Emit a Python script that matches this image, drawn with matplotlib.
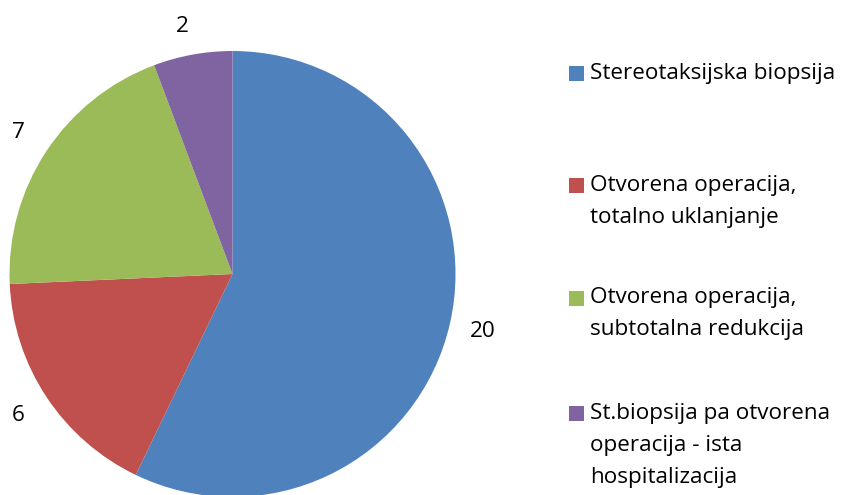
import matplotlib
matplotlib.use("Agg")
import matplotlib.pyplot as plt
from matplotlib.patches import Rectangle

categories = [
    "Stereotaksijska biopsija",
    "Otvorena operacija,\ntotalno uklanjanje",
    "Otvorena operacija,\nsubtotalna redukcija",
    "St.biopsija pa otvorena\noperacija - ista\nhospitalizacija",
]
values = [20, 6, 7, 2]
colors = ["#4F81BD", "#C0504D", "#9BBB59", "#8064A2"]

W, H = 843, 495
fig = plt.figure(figsize=(W / 100, H / 100), dpi=100)
ax = fig.add_axes([0, 0, 1, 1])

FONT = "Open Sans"
FS = 16.2

wedges, texts = ax.pie(
    values,
    colors=colors,
    startangle=90,
    counterclock=False,
    center=(232.5, H - 274),
    radius=223,
    labels=[str(v) for v in values],
    labeldistance=1.15,
    textprops=dict(fontsize=FS, family=FONT, color="#000000", ha="center", va="center"),
    wedgeprops=dict(linewidth=0),
    frame=True,
)
for t in texts:
    t.set_ha("center")
ax.set_xlim(0, W)
ax.set_ylim(0, H)
ax.set_aspect("equal")
ax.axis("off")
# nudge small-slice label like the reference
x, y = texts[3].get_position()
texts[3].set_position((x - 4, y - 5))

# legend drawn manually
first_line_y = [73, 185, 298, 413]
line_h = 32
for cat, col, yy in zip(categories, colors, first_line_y):
    ax.add_patch(Rectangle((569, H - yy - 7.5), 15, 15, facecolor=col, edgecolor="none"))
    for i, line in enumerate(cat.split("\n")):
        ax.text(590, H - (yy + i * line_h), line, fontsize=FS, family=FONT,
                color="#000000", ha="left", va="center")

fig.savefig("out.png", dpi=100)
